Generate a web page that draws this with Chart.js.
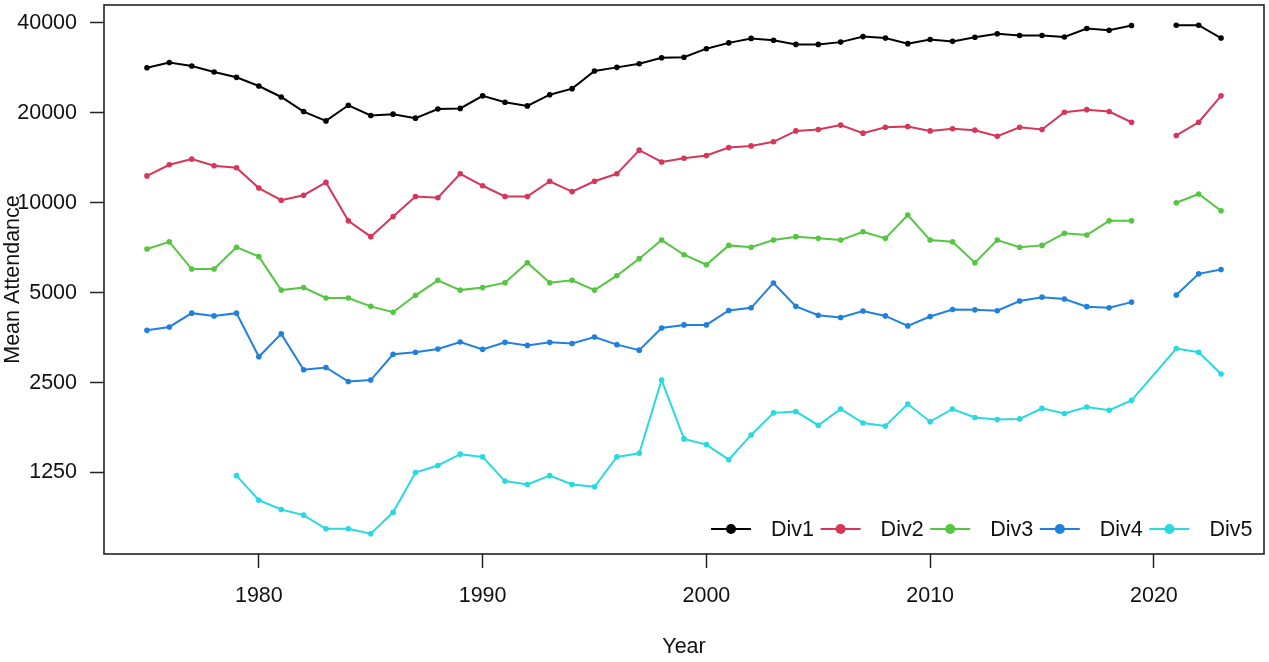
<!DOCTYPE html>
<html>
<head>
<meta charset="utf-8">
<title>Mean Attendance by Division</title>
<script src="https://cdn.jsdelivr.net/npm/chart.js@4.4.1/dist/chart.umd.min.js"></script>
<style>
    html, body { margin: 0; padding: 0; background: #fff; }
    .chart-wrap { width: 1269px; height: 662px; position: relative; }
</style>
</head>
<body>
<div class="chart-wrap"><canvas id="attendanceChart"></canvas></div>
<script>
/* ─── Data ─── */
const years = [
    1975, 1976, 1977, 1978, 1979, 1980, 1981, 1982, 1983, 1984,
    1985, 1986, 1987, 1988, 1989, 1990, 1991, 1992, 1993, 1994,
    1995, 1996, 1997, 1998, 1999, 2000, 2001, 2002, 2003, 2004,
    2005, 2006, 2007, 2008, 2009, 2010, 2011, 2012, 2013, 2014,
    2015, 2016, 2017, 2018, 2019, 2020, 2021, 2022, 2023
];

const div1 = [
    28300, 29500, 28700, 27400, 26300, 24600, 22600, 20200, 18800, 21200,
    19600, 19800, 19200, 20600, 20700, 22800, 21700, 21100, 23000, 24100,
    27600, 28400, 29200, 30600, 30700, 32800, 34300, 35500, 35000, 33900,
    33900, 34500, 36000, 35600, 34100, 35200, 34700, 35800, 36800, 36300,
    36300, 35900, 38300, 37800, 39200, null, 39300, 39300, 35600
];
const div2 = [
    12300, 13400, 14000, 13300, 13100, 11200, 10200, 10600, 11700, 8700,
    7700, 9000, 10500, 10400, 12500, 11400, 10500, 10500, 11800, 10900,
    11800, 12500, 15000, 13700, 14100, 14400, 15300, 15500, 16000, 17400,
    17600, 18200, 17100, 17900, 18000, 17400, 17700, 17500, 16700, 17900,
    17600, 20100, 20500, 20200, 18600, null, 16800, 18600, 22800
];
const div3 = [
    7000, 7400, 6000, 6000, 7100, 6600, 5100, 5200, 4800, 4800,
    4500, 4300, 4900, 5500, 5100, 5200, 5400, 6300, 5400, 5500,
    5100, 5700, 6500, 7500, 6700, 6200, 7200, 7100, 7500, 7700,
    7600, 7500, 8000, 7600, 9100, 7500, 7400, 6300, 7500, 7100,
    7200, 7900, 7800, 8700, 8700, null, 10000, 10700, 9400
];
const div4 = [
    3740, 3840, 4270, 4180, 4270, 3050, 3640, 2760, 2810, 2520,
    2550, 3110, 3160, 3240, 3420, 3230, 3410, 3330, 3410, 3380,
    3550, 3350, 3210, 3810, 3900, 3900, 4360, 4450, 5390, 4500,
    4200, 4130, 4340, 4180, 3870, 4160, 4390, 4380, 4350, 4690,
    4830, 4760, 4490, 4450, 4650, null, 4910, 5780, 5980
];
const div5 = [
    null, null, null, null, 1220, 1010, 940, 900, 810, 810,
    780, 920, 1250, 1320, 1440, 1410, 1170, 1140, 1220, 1140,
    1120, 1410, 1450, 2550, 1620, 1550, 1380, 1670, 1980, 2000,
    1800, 2040, 1830, 1790, 2120, 1850, 2040, 1910, 1880, 1890,
    2050, 1970, 2070, 2020, 2180, null, 3250, 3160, 2670
];

const seriesLabels = ['Div1', 'Div2', 'Div3', 'Div4', 'Div5'];
const xTicks = [1980, 1990, 2000, 2010, 2020];
const yTicks = [1250, 2500, 5000, 10000, 20000, 40000];

/* ─── Styles ─── */
const FONT = "'Liberation Sans', Arial, Helvetica, sans-serif";
const FONT_SIZE = 21.5;
const Colors = ['#000000', '#D5365A', '#55C640', '#1F80DE', '#29D9E0'];

/* ─── Helpers ─── */
function toPoints(values) {
    return years.map((yr, i) => ({ x: yr, y: values[i] }));
}

function makeDataset(label, values, color, spanGaps) {
    return {
        label: label,
        data: toPoints(values),
        borderColor: color,
        backgroundColor: color,
        pointBackgroundColor: color,
        pointBorderColor: color,
        pointRadius: 2.8,
        pointBorderWidth: 0,
        pointHoverRadius: 2.8,
        borderWidth: 2,
        tension: 0,
        spanGaps: spanGaps,
    };
}

/* ─── Plugins: white background, frame, legend inside plot ─── */
const backgroundPlugin = {
    id: 'bg',
    beforeDraw(chart) {
        const ctx = chart.ctx;
        ctx.save();
        ctx.fillStyle = '#ffffff';
        ctx.fillRect(0, 0, chart.width, chart.height);
        ctx.restore();
    }
};

const framePlugin = {
    id: 'frame',
    afterDatasetsDraw(chart) {
        const { ctx, chartArea: a } = chart;
        ctx.save();
        ctx.strokeStyle = '#222';
        ctx.lineWidth = 1.6;
        ctx.strokeRect(a.left, a.top, a.right - a.left, a.bottom - a.top);
        ctx.restore();
    }
};

const insideLegend = {
    id: 'insideLegend',
    afterDraw(chart) {
        const { ctx, chartArea: a } = chart;
        const y = a.bottom - 25;
        const step = 109.6;
        let x = a.right - 553;
        ctx.save();
        ctx.font = FONT_SIZE + 'px ' + FONT;
        ctx.textBaseline = 'middle';
        ctx.textAlign = 'left';
        chart.data.datasets.forEach(ds => {
            ctx.strokeStyle = ds.borderColor;
            ctx.lineWidth = 2;
            ctx.beginPath();
            ctx.moveTo(x, y);
            ctx.lineTo(x + 40, y);
            ctx.stroke();
            ctx.fillStyle = ds.borderColor;
            ctx.beginPath();
            ctx.arc(x + 20, y, 5, 0, Math.PI * 2);
            ctx.fill();
            ctx.fillStyle = '#111';
            ctx.fillText(ds.label, x + 60, y + 1);
            x += step;
        });
        ctx.restore();
    }
};

/* ─── Chart ─── */
Chart.defaults.font.family = FONT;
Chart.defaults.color = '#111';

new Chart(document.getElementById('attendanceChart'), {
    type: 'line',
    data: {
        datasets: [
            makeDataset(seriesLabels[0], div1, Colors[0], false),
            makeDataset(seriesLabels[1], div2, Colors[1], false),
            makeDataset(seriesLabels[2], div3, Colors[2], false),
            makeDataset(seriesLabels[3], div4, Colors[3], false),
            makeDataset(seriesLabels[4], div5, Colors[4], true),
        ]
    },
    options: {
        responsive: true,
        maintainAspectRatio: false,
        animation: false,
        layout: { padding: { top: 5, right: 5, left: 0, bottom: 0 } },
        plugins: {
            legend: { display: false },
            tooltip: { enabled: false },
        },
        scales: {
            x: {
                type: 'linear',
                min: 1973.08,
                max: 2024.92,
                afterBuildTicks: scale => { scale.ticks = xTicks.map(v => ({ value: v })); },
                afterFit: scale => {
                    scale.height = 108;
                    scale.paddingLeft = 0;
                    scale.paddingRight = 0;
                },
                ticks: {
                    font: { size: FONT_SIZE },
                    color: '#111',
                    padding: 15,
                    maxRotation: 0,
                    callback: v => String(v),
                },
                grid: {
                    drawOnChartArea: false,
                    drawTicks: true,
                    tickLength: 14,
                    tickWidth: 1.5,
                    tickColor: '#222',
                },
                border: { display: false },
                title: {
                    display: true,
                    text: 'Year',
                    font: { size: FONT_SIZE },
                    color: '#111',
                    padding: { top: 0, bottom: 2 },
                },
            },
            y: {
                type: 'logarithmic',
                min: 667,
                max: 45930,
                afterBuildTicks: scale => { scale.ticks = yTicks.map(v => ({ value: v })); },
                afterFit: scale => {
                    scale.width = 104;
                    scale.paddingTop = 0;
                    scale.paddingBottom = 0;
                },
                ticks: {
                    font: { size: FONT_SIZE },
                    color: '#111',
                    padding: 13,
                    callback: v => String(v),
                },
                grid: {
                    drawOnChartArea: false,
                    drawTicks: true,
                    tickLength: 14,
                    tickWidth: 1.5,
                    tickColor: '#222',
                },
                border: { display: false },
                title: {
                    display: true,
                    text: 'Mean Attendance',
                    font: { size: FONT_SIZE },
                    color: '#111',
                    padding: { top: 0, bottom: 0 },
                },
            },
        },
    },
    plugins: [backgroundPlugin, framePlugin, insideLegend],
});
</script>
</body>
</html>
